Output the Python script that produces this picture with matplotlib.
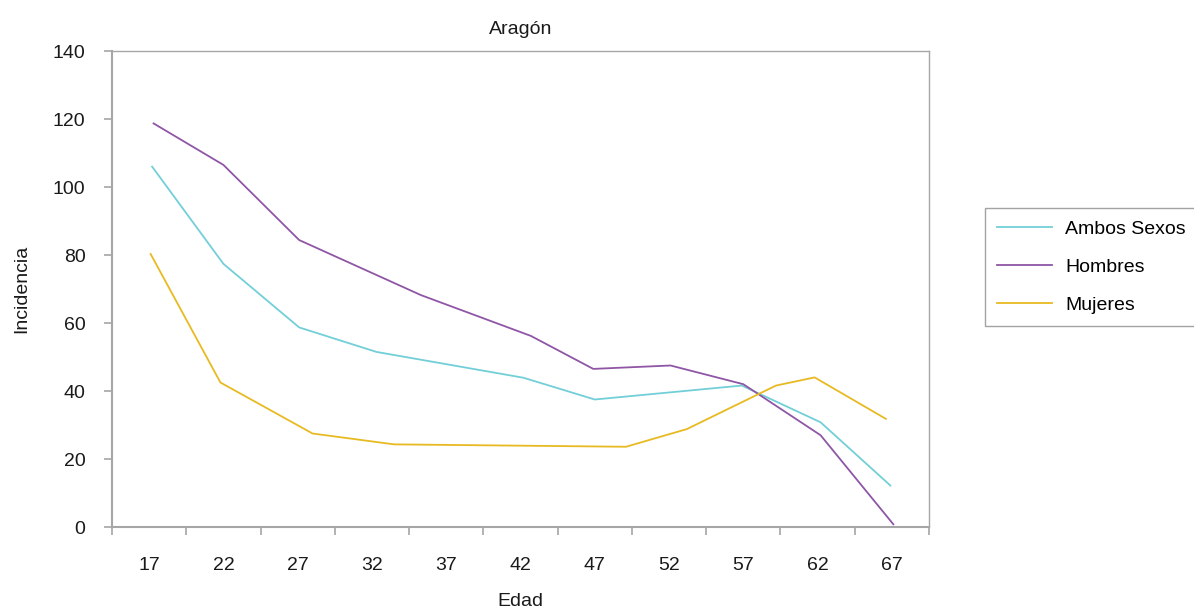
import matplotlib.pyplot as plt
from matplotlib.ticker import FixedLocator

plt.rcParams["font.family"] = ["Liberation Sans", "DejaVu Sans"]

age_labels = [17, 22, 27, 32, 37, 42, 47, 52, 57, 62, 67]

ambos_age = [17.2, 22.0, 27.1, 32.3, 42.2, 47.0, 56.9, 62.2, 66.9]
ambos_val = [106.0, 77.4, 58.7, 51.5, 43.9, 37.5, 41.6, 30.8, 12.2]

hombres_age = [17.3, 22.0, 27.1, 35.3, 42.7, 46.9, 52.1, 57.0, 62.2, 67.1]
hombres_val = [118.7, 106.5, 84.4, 68.2, 56.2, 46.5, 47.5, 42.0, 27.0, 0.8]

mujeres_age = [17.1, 21.8, 28.0, 33.5, 49.1, 53.2, 59.2, 61.8, 66.6]
mujeres_val = [80.3, 42.5, 27.5, 24.3, 23.6, 28.8, 41.6, 44.0, 31.8]

spine_gray = "#a6a6a6"
text_color = "#1a1a1a"

fig = plt.figure(figsize=(11.94, 6.09), dpi=100)
ax = fig.add_axes([112 / 1194, 82 / 609, 817 / 1194, 476 / 609])

ax.plot(ambos_age, ambos_val, color="#72cfd8", lw=1.3, label="Ambos Sexos")
ax.plot(hombres_age, hombres_val, color="#8f56a6", lw=1.3, label="Hombres")
ax.plot(mujeres_age, mujeres_val, color="#e8ba22", lw=1.3, label="Mujeres")

ax.set_xlim(14.5, 69.5)
ax.set_ylim(0, 140)
ax.set_yticks(range(0, 141, 20))
ax.set_xticks(age_labels)
ax.set_xticklabels([str(a) for a in age_labels])
ax.xaxis.set_minor_locator(FixedLocator([14.5 + 5 * i for i in range(12)]))
ax.tick_params(axis="x", which="major", length=0, pad=21.5, labelsize=14, colors=text_color)
ax.tick_params(axis="x", which="minor", length=6, width=1.2, color=spine_gray)
ax.tick_params(axis="y", length=6, width=1.2, color=spine_gray, labelsize=14,
               labelcolor=text_color, pad=13)

for side in ["left", "bottom"]:
    ax.spines[side].set_color(spine_gray)
    ax.spines[side].set_linewidth(1.5)
for side in ["top", "right"]:
    ax.spines[side].set_color(spine_gray)
    ax.spines[side].set_linewidth(1.0)

ax.set_title("Aragón", fontsize=14, pad=12.5, color=text_color)
ax.set_xlabel("Edad", fontsize=14, labelpad=13.5, color=text_color)
ax.set_ylabel("Incidencia", fontsize=14, labelpad=16, color=text_color)

leg = fig.legend(loc="upper left", bbox_to_anchor=(985 / 1194, 1 - 208 / 609),
                 fontsize=14, frameon=True, fancybox=False, edgecolor="#8c8c8c",
                 handlelength=2.8, handletextpad=0.7, labelspacing=1.06,
                 borderpad=0.62, borderaxespad=0)
leg.get_frame().set_linewidth(1.0)

fig.savefig("out.png", dpi=100)
